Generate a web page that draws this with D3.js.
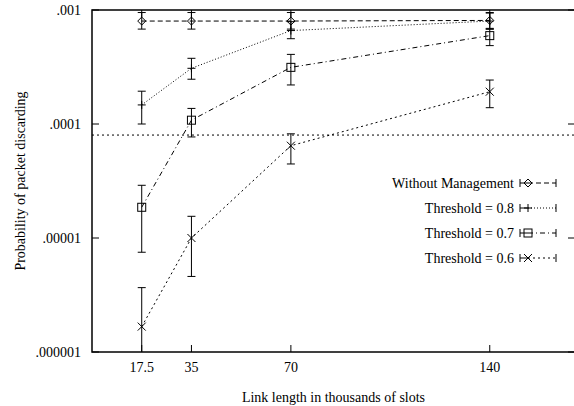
<!DOCTYPE html>
<html>
<head>
<meta charset="utf-8">
<script src="https://cdn.jsdelivr.net/npm/d3@7.9.0/dist/d3.min.js"></script>
<style>
  body { margin: 0; background: #fff; }
  svg { display: block; }
</style>
</head>
<body>
<svg id="chart" width="574" height="406"></svg>
<script>
// link lengths (thousands of slots)
const linkLengths = [17.5, 35, 70, 140];
const xTicks = [17.5, 35, 70, 140];
const yTicks = [1e-3, 1e-4, 1e-5, 1e-6];
const yTickLabels = ['.001', '.0001', '.00001', '.000001'];
const thresholdLine = 8e-5;

// series: mean, low, high
const seriesNames = ['Without Management', 'Threshold = 0.8', 'Threshold = 0.7', 'Threshold = 0.6'];
const withoutMgmt    = [8.0e-4, 8.0e-4, 8.0e-4, 8.1e-4];
const withoutMgmtLo  = [6.8e-4, 6.8e-4, 6.8e-4, 6.8e-4];
const withoutMgmtHi  = [9.5e-4, 9.5e-4, 9.5e-4, 9.5e-4];
const thr08   = [1.47e-4, 3.08e-4, 6.6e-4, 8.0e-4];
const thr08Lo = [1.0e-4, 2.47e-4, 5.6e-4, 6.8e-4];
const thr08Hi = [1.94e-4, 3.77e-4, 7.9e-4, 9.4e-4];
const thr07   = [1.86e-5, 1.08e-4, 3.14e-4, 5.96e-4];
const thr07Lo = [7.5e-6, 7.7e-5, 2.2e-4, 4.87e-4];
const thr07Hi = [2.9e-5, 1.37e-4, 4.08e-4, 6.9e-4];
const thr06   = [1.67e-6, 1.0e-5, 6.45e-5, 1.92e-4];
const thr06Lo = [5e-7, 4.6e-6, 4.46e-5, 1.39e-4];
const thr06Hi = [3.67e-6, 1.55e-5, 8.2e-5, 2.43e-4];

const series = [
  { name: seriesNames[0], v: withoutMgmt, lo: withoutMgmtLo, hi: withoutMgmtHi, dash: '5,3', sym: 'diamond' },
  { name: seriesNames[1], v: thr08, lo: thr08Lo, hi: thr08Hi, dash: '1,2', sym: 'plus' },
  { name: seriesNames[2], v: thr07, lo: thr07Lo, hi: thr07Hi, dash: '5,3,1,3', sym: 'square' },
  { name: seriesNames[3], v: thr06, lo: thr06Lo, hi: thr06Hi, dash: '2,3', sym: 'cross' }
];

const L = 92, R = 575, T = 10, B = 352;
const svg = d3.select('#chart');
const x = d3.scaleLinear().domain([0, 170]).range([L, R]);
const y = d3.scaleLog().domain([1e-6, 1e-3]).range([B, T]);

// only the Times alias gives a serif face in this setup
function label(parent) {
  return parent.append('text')
    .style('font-family', '"Times New Roman"')
    .style('font-size', '14px')
    .attr('fill', '#000');
}

svg.append('defs').append('clipPath').attr('id', 'clip')
  .append('rect').attr('x', L).attr('y', T).attr('width', R - L).attr('height', B - T);

// ticks (inward, mirrored)
const tickLen = 7;
const g = svg.append('g').attr('stroke', '#000').attr('stroke-width', 1);
yTicks.forEach(t => {
  g.append('line').attr('x1', L).attr('x2', L + tickLen).attr('y1', y(t)).attr('y2', y(t));
  g.append('line').attr('x1', R - tickLen).attr('x2', R).attr('y1', y(t)).attr('y2', y(t));
});
xTicks.forEach(t => {
  g.append('line').attr('x1', x(t)).attr('x2', x(t)).attr('y1', B).attr('y2', B - tickLen);
  g.append('line').attr('x1', x(t)).attr('x2', x(t)).attr('y1', T).attr('y2', T + tickLen);
});

// tick labels
yTicks.forEach((t, i) => {
  label(svg).attr('x', 81).attr('y', y(t) + 5).attr('text-anchor', 'end').text(yTickLabels[i]);
});
xTicks.forEach(t => {
  label(svg).attr('x', x(t)).attr('y', 372).attr('text-anchor', 'middle').text(t);
});

// axis titles
label(svg).attr('x', (L + R) / 2).attr('y', 402).attr('text-anchor', 'middle')
  .text('Link length in thousands of slots');
label(svg).attr('transform', `translate(25,${(T + B) / 2}) rotate(-90)`)
  .attr('text-anchor', 'middle').text('Probability of packet discarding');

const plot = svg.append('g').attr('clip-path', 'url(#clip)');

// horizontal reference line
plot.append('line').attr('x1', L).attr('x2', R)
  .attr('y1', y(thresholdLine)).attr('y2', y(thresholdLine))
  .attr('stroke', '#000').attr('stroke-width', 1).attr('stroke-dasharray', '2,3');

function symbol(sel, type, cx, cy) {
  const s = 4;
  if (type === 'diamond') {
    sel.append('path').attr('d', `M${cx},${cy - s}L${cx + s},${cy}L${cx},${cy + s}L${cx - s},${cy}Z`)
      .attr('fill', 'none').attr('stroke', '#000');
  } else if (type === 'square') {
    sel.append('rect').attr('x', cx - s).attr('y', cy - s).attr('width', 2 * s).attr('height', 2 * s)
      .attr('fill', 'none').attr('stroke', '#000');
  } else if (type === 'plus') {
    sel.append('path').attr('d', `M${cx - s},${cy}H${cx + s}M${cx},${cy - s}V${cy + s}`).attr('stroke', '#000');
  } else {
    sel.append('path').attr('d', `M${cx - s},${cy - s}L${cx + s},${cy + s}M${cx - s},${cy + s}L${cx + s},${cy - s}`)
      .attr('stroke', '#000');
  }
}

const line = d3.line().x(d => x(d[0])).y(d => y(d[1]));
const capW = 4;

series.forEach(s => {
  const pts = linkLengths.map((k, i) => [k, s.v[i]]);
  plot.append('path').attr('d', line(pts)).attr('fill', 'none')
    .attr('stroke', '#000').attr('stroke-width', 1).attr('stroke-dasharray', s.dash);
  linkLengths.forEach((k, i) => {
    const cx = x(k), ylo = y(s.lo[i]), yhi = y(s.hi[i]);
    plot.append('path')
      .attr('d', `M${cx},${ylo}V${yhi}M${cx - capW},${ylo}H${cx + capW}M${cx - capW},${yhi}H${cx + capW}`)
      .attr('stroke', '#000').attr('stroke-width', 1).attr('fill', 'none');
    symbol(plot, s.sym, cx, y(s.v[i]));
  });
});

// legend
const legY = d3.scaleLinear().domain([0, 3]).range([183, 258]);
series.forEach((s, i) => {
  const ly = legY(i);
  label(svg).attr('x', 514).attr('y', ly + 5).attr('text-anchor', 'end').text(s.name);
  const x1 = 520, x2 = 556, sx = 528;
  svg.append('line').attr('x1', sx).attr('x2', x2).attr('y1', ly).attr('y2', ly)
    .attr('stroke', '#000').attr('stroke-dasharray', s.dash);
  svg.append('line').attr('x1', x1).attr('x2', sx).attr('y1', ly).attr('y2', ly).attr('stroke', '#000');
  svg.append('path').attr('d', `M${x1},${ly - 4}V${ly + 4}M${x2},${ly - 4}V${ly + 4}`)
    .attr('stroke', '#000');
  symbol(svg, s.sym, sx, ly);
});

// frame
svg.append('rect').attr('x', L).attr('y', T).attr('width', R - L).attr('height', B - T)
  .attr('fill', 'none').attr('stroke', '#000').attr('stroke-width', 1.5);
</script>
</body>
</html>
